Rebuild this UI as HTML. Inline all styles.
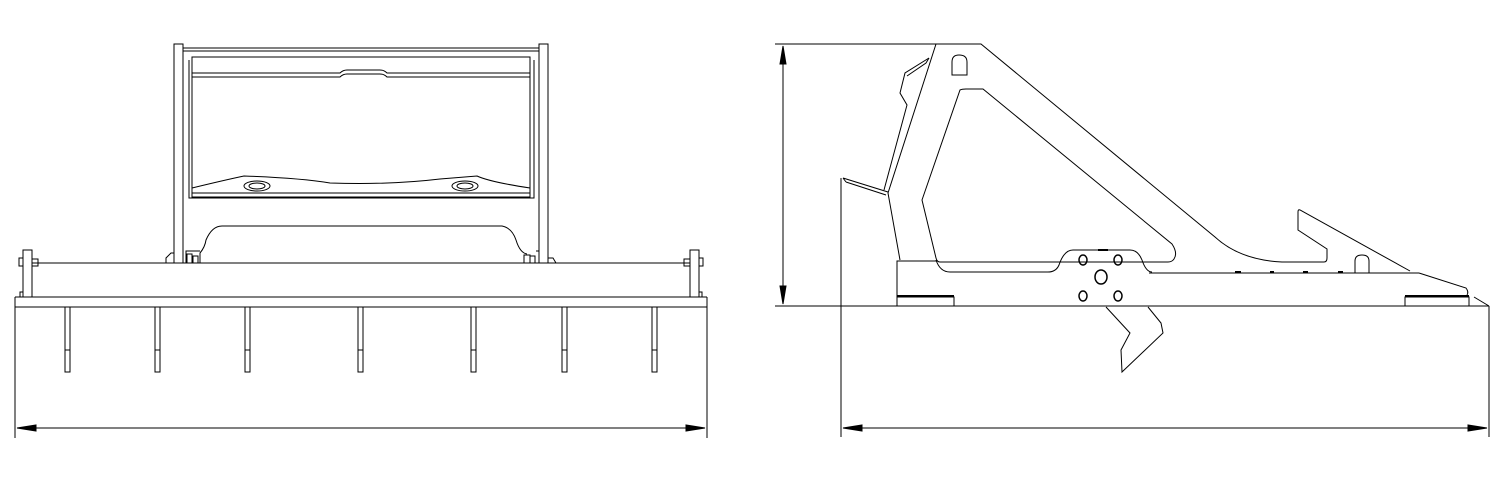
<!DOCTYPE html>
<html><head><style>html,body{margin:0;padding:0;background:#fff}svg{display:block}</style></head>
<body>
<svg width="1509" height="483" viewBox="0 0 1509 483" xmlns="http://www.w3.org/2000/svg" fill="none" stroke="#000" stroke-width="1">
<!-- LEFT VIEW -->
<line x1="15" y1="297" x2="707" y2="297"/>
<line x1="15" y1="307" x2="707" y2="307"/>
<line x1="15" y1="297" x2="15" y2="438"/>
<line x1="707" y1="297" x2="707" y2="438"/>
<line x1="17" y1="428" x2="705" y2="428"/>
<path d="M17 428 L36 425 L36 431 Z M705 428 L686 425 L686 431 Z" fill="#000"/>
<g>
<rect x="65" y="307" width="5" height="65"/><line x1="65" y1="350" x2="70" y2="350"/>
<rect x="155" y="307" width="5" height="65"/><line x1="155" y1="350" x2="160" y2="350"/>
<rect x="245" y="307" width="5" height="65"/><line x1="245" y1="350" x2="250" y2="350"/>
<rect x="358" y="307" width="5" height="65"/><line x1="358" y1="350" x2="363" y2="350"/>
<rect x="471" y="307" width="5" height="65"/><line x1="471" y1="350" x2="476" y2="350"/>
<rect x="562" y="307" width="5" height="65"/><line x1="562" y1="350" x2="567" y2="350"/>
<rect x="652" y="307" width="5" height="65"/><line x1="652" y1="350" x2="657" y2="350"/>
</g>
<line x1="32" y1="263" x2="690" y2="263"/>
<rect x="23" y="250" width="9" height="47"/>
<rect x="690" y="250" width="9" height="47"/>
<rect x="19" y="258" width="4" height="8"/><rect x="32" y="259" width="6" height="7"/>
<rect x="699" y="258" width="4" height="8"/><rect x="684" y="259" width="6" height="7"/>
<rect x="20" y="292" width="3" height="5"/><rect x="699" y="292" width="3" height="5"/>
<rect x="174" y="44" width="9" height="219"/>
<rect x="539" y="44" width="9" height="219"/>
<line x1="183" y1="48" x2="539" y2="48"/>
<line x1="183" y1="51" x2="539" y2="51"/>
<path d="M189 60 L189 198 L534 198 L534 60"/>
<rect x="192" y="57" width="338" height="140"/>
<path d="M192 73 L340 73 Q343 70 347 70 L380 70 Q384 70 387 73 L530 73"/>
<path d="M192 77 L340 77 Q343 74 347 74 L380 74 Q384 74 387 77 L530 77"/>
<path d="M192 188 Q225 180 244 176 Q300 178 330 183 Q390 185 440 179 L477 176 Q490 182 530 188"/>
<line x1="192" y1="193" x2="530" y2="193"/>
<ellipse cx="257" cy="186" rx="13" ry="5"/><ellipse cx="257" cy="186" rx="8" ry="3"/>
<ellipse cx="465" cy="186" rx="13" ry="5"/><ellipse cx="465" cy="186" rx="8" ry="3"/>
<path d="M200 263 L200 253 Q205 247 206 240 Q212 226 222 226 L502 226 Q512 228 516 240 Q520 253 527 254"/>
<path d="M186 263 L186 251 L200 251 M536 251 L539 251"/>
<rect x="187" y="254" width="5" height="9"/><rect x="193" y="256" width="5" height="7"/>
<rect x="524" y="255" width="6" height="8"/><rect x="530" y="256" width="5" height="7"/>
<path d="M166 263 L166 258 L171 253 L174 253 M548 258 L553 258 L556 263"/>
<!-- RIGHT VIEW -->
<line x1="775" y1="44" x2="936" y2="44"/>
<line x1="775" y1="306" x2="1489" y2="306"/>
<line x1="783" y1="46" x2="783" y2="304"/>
<path d="M783 46 L780 64 L786 64 Z M783 304 L780 286 L786 286 Z" fill="#000"/>
<line x1="841" y1="178" x2="841" y2="437"/>
<line x1="1489" y1="306" x2="1489" y2="437"/>
<line x1="843" y1="428" x2="1487" y2="428"/>
<path d="M843 428 L862 425 L862 431 Z M1487 428 L1468 425 L1468 431 Z" fill="#000"/>
<path d="M936 44 L981 44 L1215 237 Q1240 260 1282 262 L1324 262 Q1327 262 1327 258 L1327 249 L1298 230 L1298 212 Q1298 209 1300 210 L1410 271"/>
<path d="M1419 273 L1466 288 Q1469 292 1467 295 M1474 297 L1489 306"/>
<line x1="1149" y1="273" x2="1419" y2="273"/>
<path d="M936 44 L888 193 L900 260"/>
<path d="M929 58 L905 73 L900 93 L907 105 L884 190"/>
<path d="M929 58 L926 63 L907 76"/>
<path d="M843 178 L888 192 M846 182 L886 195 M843 178 L846 182"/>
<path d="M897 306 L897 261 L938 261"/>
<rect x="897" y="297" width="57" height="9"/>
<line x1="897" y1="296" x2="954" y2="296" stroke-width="2"/>
<rect x="1405" y="297" width="64" height="9"/>
<line x1="1405" y1="296" x2="1469" y2="296" stroke-width="2"/>
<path d="M960 90 Q962 89 966 89 L983 89 L1172 244 Q1178 253 1174 259 Q1172 262 1168 262 L940 262 Q937 262 936 258 L922 200 Z"/>
<path d="M936 260 Q940 272 950 272 L1048 272 Q1056 272 1059 265 Q1064 250 1073 250 L1130 250 Q1138 250 1142 260 Q1146 272 1152 272"/>
<line x1="1098" y1="250" x2="1108" y2="250" stroke-width="2"/>
<ellipse cx="1083" cy="260" rx="4" ry="5" stroke-width="1.5"/>
<ellipse cx="1118" cy="260" rx="4" ry="5" stroke-width="1.5"/>
<ellipse cx="1101" cy="277" rx="6" ry="7" stroke-width="1.5"/>
<ellipse cx="1083" cy="296" rx="4" ry="5" stroke-width="1.5"/>
<ellipse cx="1118" cy="296" rx="4" ry="5" stroke-width="1.5"/>
<path d="M952 75 L952 62 Q952 55 959 55 Q967 55 967 62 L967 75 Z"/>
<path d="M1355 273 L1355 261 Q1355 255 1362 255 Q1369 255 1369 261 L1369 273"/>
<g stroke-width="2"><line x1="1235" y1="272" x2="1241" y2="272"/><line x1="1270" y1="272" x2="1274" y2="272"/><line x1="1303" y1="272" x2="1308" y2="272"/><line x1="1338" y1="272" x2="1343" y2="272"/></g>
<path d="M1106 307 L1130 333 L1121 350 L1122 372 L1163 333 L1161 323 L1148 307"/>
</svg>
</body></html>
